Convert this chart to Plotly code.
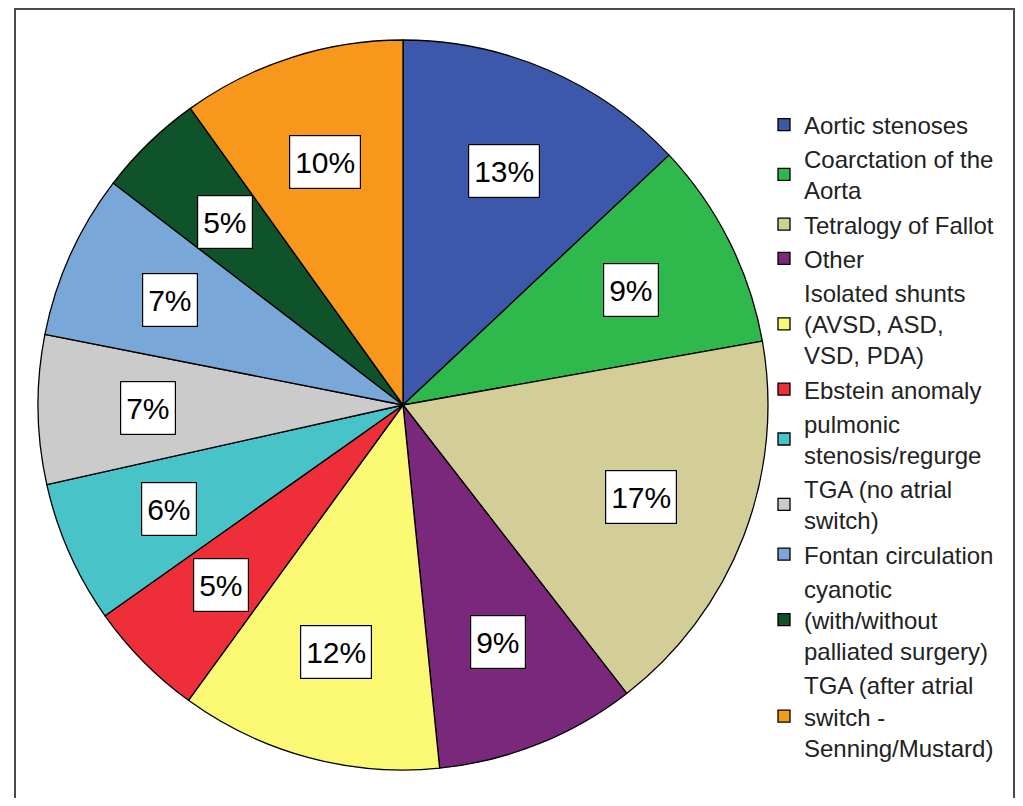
import math
import plotly.graph_objects as go

# ---- data ----
categories = [
    "Aortic stenoses",
    "Coarctation of the<br>Aorta",
    "Tetralogy of Fallot",
    "Other",
    "Isolated shunts<br>(AVSD, ASD,<br>VSD, PDA)",
    "Ebstein anomaly",
    "pulmonic<br>stenosis/regurge",
    "TGA (no atrial<br>switch)",
    "Fontan circulation",
    "cyanotic<br>(with/without<br>palliated surgery)",
    "TGA (after atrial<br>switch -<br>Senning/Mustard)",
]
percent_values = [13.0, 9.2, 17.3, 8.9, 11.6, 5.2, 6.3, 6.6, 7.3, 4.7, 9.9]
slice_colors = [
    "#3D58AB", "#2FB84B", "#D3CE98", "#79287C", "#FBF873", "#EE2F3A",
    "#48C3C7", "#CBCBCB", "#79A7D8", "#0E5329", "#F7981D",
]
label_texts = [f"{round(v)}%" for v in percent_values]

# page has an 8px body margin; figure sized to fit the window without scrolling
OFF = 8
W, H = 1023 - 2 * OFF, 806 - 2 * OFF
FONT = "Liberation Sans, Arial, sans-serif"


def fx(px):
    return (px - OFF) / W


def fy(py):
    return 1 - (py - OFF) / H


# pie geometry (page pixels)
px0, px1 = 38, 768
py0, py1 = 40, 770
cx, cy = (px0 + px1) / 2, (py0 + py1) / 2
radius = (px1 - px0) / 2

fig = go.Figure(
    go.Pie(
        labels=categories,
        values=percent_values,
        sort=False,
        direction="clockwise",
        rotation=0,
        marker=dict(colors=slice_colors, line=dict(color="#000000", width=1.3)),
        textinfo="none",
        hoverinfo="label+percent",
        domain=dict(x=[fx(px0), fx(px1)], y=[fy(py1), fy(py0)]),
    )
)

# label boxes at slice mid-angles
total = sum(percent_values)
cum = 0.0
annotations = []
for v, t in zip(percent_values, label_texts):
    mid = (cum + v / 2) / total
    cum += v
    th = 2 * math.pi * mid
    rl = 0.70 * radius
    x = cx + rl * math.sin(th)
    y = cy - rl * math.cos(th)
    annotations.append(
        dict(
            x=fx(x), y=fy(y), xref="paper", yref="paper",
            text=t, showarrow=False,
            font=dict(family=FONT, size=30, color="#000000"),
            bgcolor="#FFFFFF", bordercolor="#000000", borderwidth=1.2,
            borderpad=5, height=42, valign="middle",
            xanchor="center", yanchor="middle",
        )
    )

fig.update_layout(
    width=W,
    height=H,
    margin=dict(l=0, r=0, t=0, b=0, autoexpand=False),
    paper_bgcolor="#FFFFFF",
    plot_bgcolor="#FFFFFF",
    font=dict(family=FONT, color="#222222"),
    showlegend=True,
    legend=dict(
        x=fx(764), xanchor="left",
        y=fy(436), yanchor="middle",
        font=dict(family=FONT, size=24, color="#222222"),
        bgcolor="rgba(0,0,0,0)",
        traceorder="normal",
    ),
    annotations=annotations,
    shapes=[
        dict(
            type="rect", xref="paper", yref="paper",
            x0=fx(15), x1=fx(1014), y0=-0.05, y1=fy(9),
            line=dict(color="#4A4A4A", width=2), fillcolor="rgba(0,0,0,0)",
            layer="above",
        )
    ],
)

fig.write_html("out.html")
